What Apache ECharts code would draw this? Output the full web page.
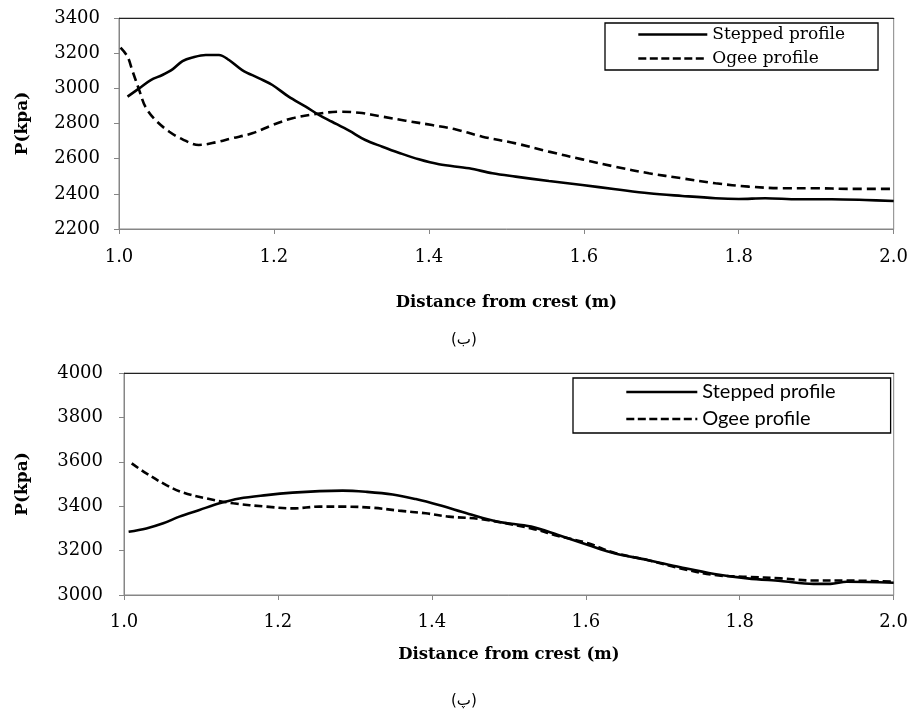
<!DOCTYPE html>
<html>
<head>
<meta charset="utf-8">
<script src="https://cdn.jsdelivr.net/npm/echarts@6/dist/echarts.min.js"></script>
<style>
html,body{margin:0;padding:0;background:#fff;}
#chart{width:911px;height:713px;}
</style>
</head>
<body>
<div id="chart"></div>
<script>
// ---- data ----
var seriesNames = ['Stepped profile', 'Ogee profile'];
var xTickLabels = ['1.0', '1.2', '1.4', '1.6', '1.8', '2.0'];
var yTicksTop = [2200, 2400, 2600, 2800, 3000, 3200, 3400];
var yTicksBottom = [3000, 3200, 3400, 3600, 3800, 4000];
var captions = ['(ب)', '(پ)'];
var xTitle = 'Distance from crest (m)';
var yTitle = 'P(kpa)';

// top chart (ب)
var topSteppedX = [1.011,1.026,1.041,1.056,1.069,1.082,1.095,1.112,1.129,1.142,1.159,1.181,1.198,1.219,1.241,1.258,1.275,1.297,1.318,1.340,1.361,1.387,1.413,1.452,1.482,1.512,1.555,1.598,1.641,1.684,1.727,1.770,1.800,1.834,1.877,1.920,1.963,2.0];
var topSteppedY = [2953,3000,3047,3076,3108,3155,3176,3190,3190,3161,3104,3057,3019,2953,2896,2849,2810,2759,2706,2668,2634,2596,2568,2545,2517,2498,2473,2450,2426,2403,2388,2375,2371,2375,2369,2369,2365,2359];
var topOgeeX = [1.002,1.011,1.017,1.026,1.034,1.047,1.065,1.082,1.103,1.125,1.146,1.172,1.198,1.224,1.254,1.284,1.310,1.340,1.370,1.404,1.435,1.469,1.512,1.555,1.598,1.641,1.684,1.727,1.770,1.813,1.856,1.899,1.942,2.0];
var topOgeeY = [3231,3180,3104,2991,2896,2820,2753,2710,2678,2693,2716,2744,2791,2830,2854,2867,2861,2839,2816,2791,2766,2725,2687,2640,2596,2554,2517,2488,2460,2441,2432,2432,2428,2428];

// bottom chart (پ)
var botSteppedX = [1.006,1.029,1.051,1.072,1.098,1.124,1.150,1.185,1.219,1.254,1.284,1.314,1.349,1.379,1.409,1.448,1.486,1.529,1.564,1.603,1.637,1.680,1.723,1.767,1.810,1.853,1.896,1.918,1.939,2.0];
var botSteppedY = [3285,3300,3323,3353,3383,3413,3435,3450,3461,3468,3470,3465,3453,3432,3405,3365,3330,3308,3270,3225,3188,3158,3125,3095,3075,3063,3050,3050,3060,3055];
var botOgeeX = [1.010,1.029,1.055,1.077,1.107,1.142,1.185,1.219,1.254,1.288,1.323,1.357,1.392,1.422,1.465,1.529,1.564,1.603,1.637,1.680,1.723,1.767,1.810,1.853,1.896,1.939,2.0];
var botOgeeY = [3593,3548,3495,3461,3435,3413,3398,3390,3398,3398,3393,3380,3368,3353,3341,3300,3266,3233,3190,3158,3120,3090,3082,3075,3065,3065,3060];

function pairs(xs, ys) { return xs.map(function (x, i) { return [x, ys[i]]; }); }

var SERIF = 'DejaVu Serif';
var GRAY = '#868686';

function xAxisMain(grid, margin, gap) {
  return {
    type: 'value', gridIndex: grid, min: 1, max: 2, interval: 0.2,
    axisLine: { show: true, lineStyle: { color: GRAY, width: 1 } },
    axisTick: { show: true, length: 5, lineStyle: { color: GRAY } },
    axisLabel: { margin: margin, color: '#000', fontFamily: SERIF, fontSize: 18,
      formatter: function (v) { return xTickLabels[Math.round((v - 1) / 0.2)]; } },
    splitLine: { show: false },
    name: xTitle, nameLocation: 'middle', nameGap: gap,
    nameTextStyle: { fontFamily: SERIF, fontWeight: 'bold', fontSize: 16.5, color: '#000' }
  };
}
function xAxisTop(grid) {
  return {
    type: 'value', gridIndex: grid, position: 'top', min: 1, max: 2, interval: 0.2,
    axisLine: { show: true, lineStyle: { color: '#222', width: 1.2 } },
    axisTick: { show: false }, axisLabel: { show: false }, splitLine: { show: false }
  };
}
function yAxisMain(grid, ticks, margin, gap) {
  return {
    type: 'value', gridIndex: grid, min: ticks[0], max: ticks[ticks.length - 1], interval: 200,
    axisLine: { show: true, lineStyle: { color: GRAY, width: 1 } },
    axisTick: { show: true, length: 5, lineStyle: { color: GRAY } },
    axisLabel: { margin: margin, color: '#000', fontFamily: SERIF, fontSize: 18,
      formatter: function (v) { return String(v); } },
    splitLine: { show: false },
    name: yTitle, nameLocation: 'middle', nameGap: gap, nameRotate: 90,
    nameTextStyle: { fontFamily: SERIF, fontWeight: 'bold', fontSize: 17, color: '#000' }
  };
}
function lineSeries(name, data, xi, dash) {
  return {
    type: 'line', name: name, data: data, xAxisIndex: xi, yAxisIndex: xi,
    symbol: 'none', showSymbol: false, smooth: 0.35, silent: true,
    lineStyle: { color: '#000', width: 2.6, type: dash || 'solid' },
    itemStyle: { color: '#000' }
  };
}
function legendData() {
  return [
    { name: seriesNames[0], lineStyle: { color: '#000', width: 2.6, type: 'solid' } },
    { name: seriesNames[1], lineStyle: { color: '#000', width: 2.6, type: [8, 3.5] } }
  ];
}

var chart = echarts.init(document.getElementById('chart'), null, { renderer: 'canvas' });
chart.setOption({
  animation: false,
  backgroundColor: '#fff',
  grid: [
    { left: 119, top: 18, width: 777, height: 211, show: true, borderColor: GRAY, borderWidth: 1 },
    { left: 124, top: 373, width: 773, height: 222, show: true, borderColor: GRAY, borderWidth: 1 }
  ],
  xAxis: [xAxisMain(0, 19, 65), xAxisMain(1, 18, 51), xAxisTop(0), xAxisTop(1)],
  yAxis: [yAxisMain(0, yTicksTop, 19, 88), yAxisMain(1, yTicksBottom, 21, 93)],
  legend: [
    { data: legendData(), orient: 'vertical', left: 605, top: 23,
      padding: [3, 33, 3, 32], itemGap: 7, itemWidth: 69, itemHeight: 14,
      borderColor: '#000', borderWidth: 1.3, backgroundColor: '#fff',
      itemStyle: { opacity: 0 },
      textStyle: { fontFamily: SERIF, fontSize: 17, color: '#000' } },
    { data: legendData(), orient: 'vertical', left: 573, top: 378,
      padding: [4, 55, 4, 52], itemGap: 7, itemWidth: 71, itemHeight: 14,
      borderColor: '#000', borderWidth: 1.3, backgroundColor: '#fff',
      itemStyle: { opacity: 0 },
      textStyle: { fontFamily: 'Lato', fontSize: 20, color: '#000' } }
  ],
  graphic: [
    { type: 'text', left: 451, top: 333, style: { text: captions[0], font: '15px "DejaVu Sans"', fill: '#000' } },
    { type: 'text', left: 451, top: 694, style: { text: captions[1], font: '15px "DejaVu Sans"', fill: '#000' } }
  ],
  series: [
    lineSeries(seriesNames[0], pairs(topSteppedX, topSteppedY), 0),
    lineSeries(seriesNames[1], pairs(topOgeeX, topOgeeY), 0, [9, 5]),
    lineSeries(seriesNames[0], pairs(botSteppedX, botSteppedY), 1),
    lineSeries(seriesNames[1], pairs(botOgeeX, botOgeeY), 1, [8, 4])
  ]
});
</script>
</body>
</html>
